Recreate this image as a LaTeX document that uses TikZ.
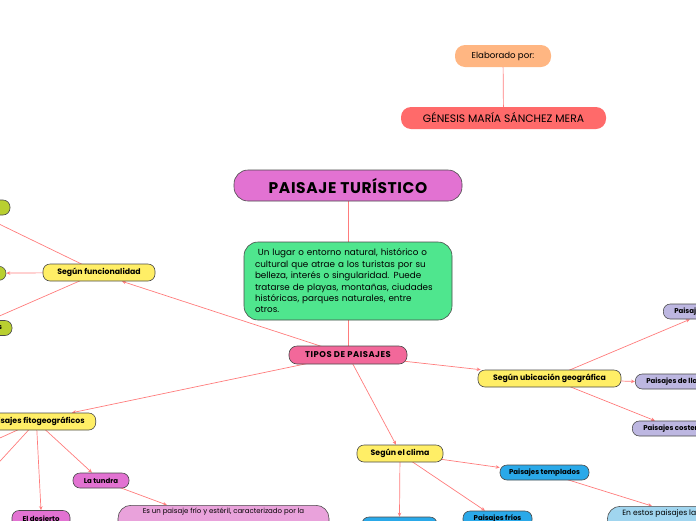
\documentclass[tikz,border=0pt]{standalone}
\usepackage{fontspec}
\setmainfont{Poppins}
\usetikzlibrary{arrows.meta, positioning, backgrounds}
\definecolor{linkred}{HTML}{FF7C7C}
\definecolor{edgegray}{HTML}{4A4A4A}
\definecolor{orchid}{HTML}{E272D2}
\definecolor{orchidlt}{HTML}{E9A2DB}
\definecolor{pinkred}{HTML}{F2689A}
\definecolor{mint}{HTML}{4FE68E}
\definecolor{sun}{HTML}{FFEE66}
\definecolor{olive}{HTML}{B9CF30}
\definecolor{sky}{HTML}{2AA9E9}
\definecolor{skylt}{HTML}{A0D5EF}
\definecolor{lavender}{HTML}{BDB7E1}
\definecolor{peach}{HTML}{FFB682}
\definecolor{coral}{HTML}{FF6A6A}

\begin{document}
\begin{tikzpicture}[
  x=1pt, y=-1pt,
  every node/.style={font=\fontsize{7}{8.5}\selectfont\bfseries, inner sep=0pt},
  pill/.style={draw=edgegray, line width=0.6pt, rounded corners=7pt,
               minimum height=15pt, align=center},
  head/.style={pill, fill=sun, minimum height=17pt, font=\fontsize{7.8}{9}\selectfont\bfseries},
  leaf/.style={pill, fill=orchid},
  cold/.style={pill, fill=sky},
  place/.style={pill, fill=lavender, inner xsep=11pt},
  usage/.style={pill, fill=olive},
  note/.style={draw=edgegray, line width=0.6pt, rounded corners=13pt,
               font=\fontsize{7}{9}\selectfont},
  link/.style={draw=linkred, line width=0.7pt},
  arr/.style={link, -{Stealth[length=4pt,width=3.5pt]}}
]
\useasboundingbox (0,0) rectangle (696,520);

%% author
\node[fill=peach, rounded corners=10pt, minimum width=96pt, minimum height=22pt,
      font=\fontsize{8.6}{10}\selectfont] (elab) at (503,56) {Elaborado por:};
\node[fill=coral, rounded corners=10pt, minimum width=205pt, minimum height=22pt,
      font=\fontsize{10.8}{12}\selectfont] (autora) at (503.5,118)
  {GÉNESIS MARÍA SÁNCHEZ MERA};

%% central topic
\node[pill, fill=orchid, rounded corners=14pt, minimum width=228pt, minimum height=31pt,
      font=\fontsize{15.5}{18}\selectfont\bfseries\addfontfeature{LetterSpace=4}]
  (titulo) at (348,185.5) {PAISAJE TURÍSTICO};
\node[pill, fill=mint, rounded corners=14pt, minimum width=208pt, minimum height=78pt,
      align=left, text width=186pt, font=\fontsize{8.8}{11.4}\selectfont] (defin) at (348,281)
  {\ Un lugar o entorno natural, histórico o\\
   cultural que atrae a los turistas por su\\
   belleza, interés o singularidad. Puede\\
   tratarse de playas, montañas, ciudades\\
   históricas, parques naturales, entre\\
   otros.};
\node[pill, fill=pinkred, minimum width=118pt, minimum height=18pt, rounded corners=8pt,
      font=\fontsize{8.4}{10}\selectfont\bfseries\addfontfeature{LetterSpace=6}]
  (tipos) at (348,355) {TIPOS DE PAISAJES};

%% funcionalidad
\node[head, minimum width=112pt] (funcional) at (99,272.5) {Según funcionalidad};
\node[usage, minimum width=90pt] (uso1) at (-35,207.5) {};
\node[usage, minimum width=72pt, minimum height=14pt] (uso2) at (-30,273.3) {};
\node[usage, minimum width=80pt, text width=60pt, align=right] (uso3) at (-28,328) {s};

%% fitogeograficos
\node[head, inner xsep=11pt, anchor=east] (fitogeo) at (96,421.5) {Paisajes fitogeográficos};
\coordinate (fitoA) at (-40,456);
\coordinate (fitoB) at (-20,483);
\node[leaf, minimum width=58pt, minimum height=17pt] (desierto) at (41,519) {El desierto};
\node[leaf, minimum width=56pt] (tundra) at (101,480.5) {La tundra};
\node[note, fill=orchidlt, anchor=north, minimum width=211pt,
      inner ysep=3pt, align=center] (tundranota) at (223.5,505)
  {Es un paisaje frío y estéril, caracterizado por la\\ \strut\\ \strut};

%% clima
\node[head, minimum width=86pt] (clima) at (400,453.5) {Según el clima};
\node[cold, minimum width=89pt] (templados) at (544.5,472.5) {Paisajes templados};
\node[cold, minimum width=75pt, minimum height=16pt] (calidos) at (399.5,525) {};
\node[cold, minimum width=69pt, minimum height=16pt] (frios) at (497.5,519) {Paisajes fríos};
\node[note, fill=skylt, anchor=north west, inner xsep=15pt, inner ysep=3pt,
      align=left, font=\fontsize{7.6}{9}\selectfont]
  (templanota) at (607,506) {En estos paisajes las c\\ \strut\\ \strut};

%% ubicacion
\node[head, minimum width=143pt] (ubicacion) at (549.5,378.5) {Según ubicación geográfica};
\node[place, anchor=west] (montana) at (663,311.5) {Paisajes de montaña};
\node[place, anchor=west] (llanura) at (635,381.5) {Paisajes de llanura};
\node[place, anchor=west] (costeros) at (632,428.5) {Paisajes costeros};

%% connectors
\begin{scope}[on background layer]
  \draw[link] (elab) -- (autora);
  \draw[link] (titulo) -- (defin);
  \draw[link] (defin) -- (tipos);
  \draw[arr] (tipos.center) -- (funcional.-21);
  \draw[arr] (tipos.center) -- ([xshift=-24pt]fitogeo.north east);
  \draw[arr] (tipos.center) -- ([xshift=-4pt]clima.north);
  \draw[arr] (tipos.center) -- ([xshift=3pt]ubicacion.north west);
  \foreach \u in {uso1,uso2,uso3}
    \draw[arr] (funcional.center) -- (\u);
  \foreach \f in {fitoA,fitoB}
    \draw[arr] (fitogeo.center) -- (\f);
  \draw[arr] (fitogeo.center) -- (desierto.north);
  \draw[arr] (fitogeo.center) -- ([xshift=-9pt]tundra.north);
  \draw[arr] (tundra.center) -- ([xshift=-56.5pt]tundranota.north);
  \draw[arr] (clima.center) -- ([yshift=5pt]templados.west);
  \draw[arr] (clima.center) -- (calidos.north);
  \draw[arr] (clima.center) -- ([xshift=-12.5pt]frios.north);
  \draw[arr] (templados.center) -- ([xshift=45pt]templanota.north west);
  \draw[arr] (ubicacion.center) -- ([xshift=27pt]montana.south west);
  \draw[arr] (ubicacion.center) -- (llanura.west);
  \draw[arr] (ubicacion.center) -- ([xshift=23pt]costeros.north west);
\end{scope}

\end{tikzpicture}
\end{document}
